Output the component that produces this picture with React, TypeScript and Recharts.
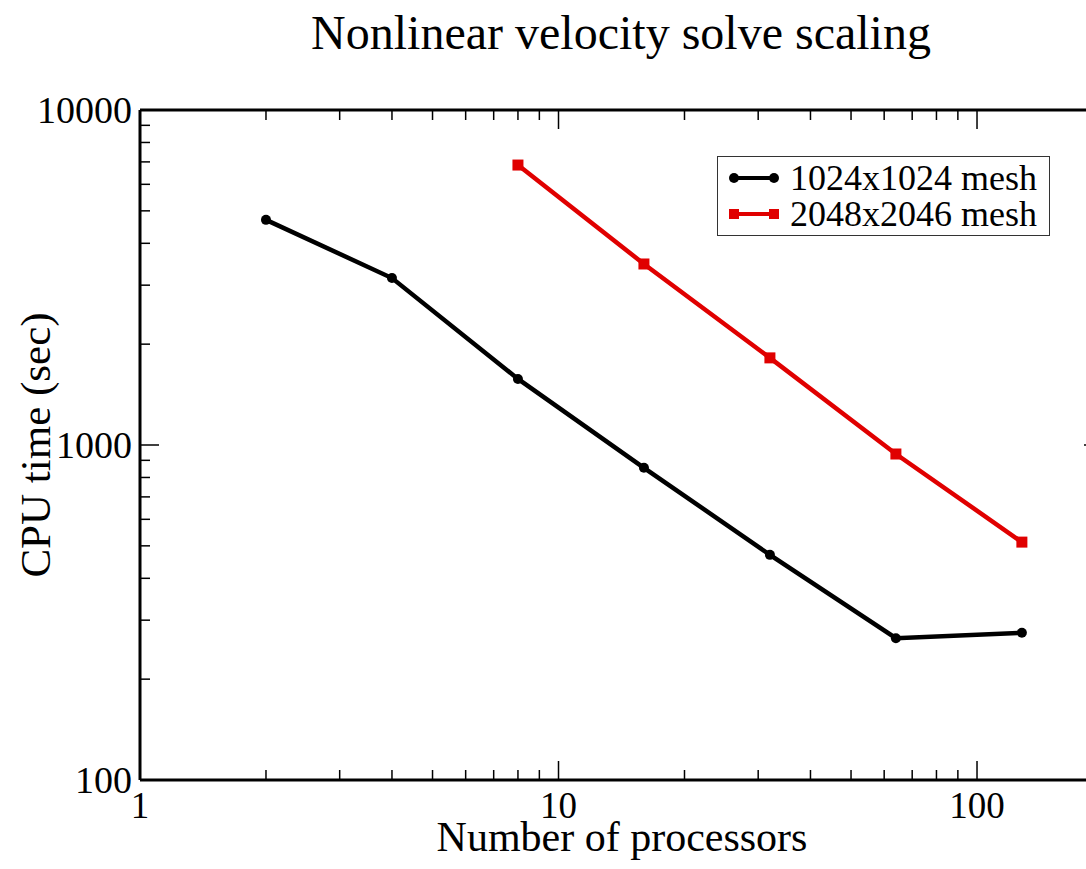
import React from "react";
import { LineChart, Line, XAxis, YAxis, Legend } from "recharts";

const processors = [2, 4, 8, 16, 32, 64, 128];
const mesh1024 = [4700, 3150, 1575, 855, 470, 265, 275];
const mesh2048 = [null, null, 6850, 3470, 1820, 940, 513];

const xTicks = [1, 2, 3, 4, 5, 6, 7, 8, 9, 10, 20, 30, 40, 50, 60, 70, 80, 90, 100, 200];
const yTicks = [
  100, 200, 300, 400, 500, 600, 700, 800, 900,
  1000, 2000, 3000, 4000, 5000, 6000, 7000, 8000, 9000, 10000,
];
const majorTicks = [1, 10, 100, 1000, 10000];

const rows = processors.map((p, i) => ({ p, a: mesh1024[i], b: mesh2048[i] }));

const FONT = '"Liberation Serif", "Times New Roman", serif';
const isMajor = (v: number) => majorTicks.includes(v);

function XTick({ x, y, payload, top }: any) {
  const major = isMajor(payload.value);
  const len = major ? 19 : 10;
  const dir = top ? 1 : -1;
  return (
    <g>
      <line x1={x} y1={y} x2={x} y2={y + dir * len} stroke="#000" strokeWidth={1.5} />
      {!top && major && (
        <text x={x} y={y + 38} textAnchor="middle" fontFamily={FONT} fontSize={37} fill="#000">
          {payload.value}
        </text>
      )}
    </g>
  );
}

function YTick({ x, y, payload, right }: any) {
  const major = isMajor(payload.value);
  const len = major ? 19 : 10;
  const dir = right ? -1 : 1;
  return (
    <g>
      <line x1={x} y1={y} x2={x + dir * len} y2={y} stroke="#000" strokeWidth={1.5} />
      {!right && major && (
        <text x={x - 8} y={y + 13} textAnchor="end" fontFamily={FONT} fontSize={38} fill="#000">
          {payload.value}
        </text>
      )}
    </g>
  );
}

function LegendBox() {
  const items = [
    { label: "1024x1024 mesh", color: "#000", square: false },
    { label: "2048x2046 mesh", color: "#e00000", square: true },
  ];
  return (
    <div
      style={{
        border: "1.5px solid #333",
        background: "#fff",
        padding: "3px 10px 3px 10px",
        fontFamily: FONT,
        fontSize: 36,
        lineHeight: "36px",
        color: "#000",
        whiteSpace: "nowrap",
      }}
    >
      {items.map((it) => (
        <div key={it.label} style={{ display: "flex", alignItems: "center", height: 36 }}>
          <svg width={52} height={20} style={{ marginRight: 10, flex: "none" }}>
            <line x1={6} y1={10} x2={46} y2={10} stroke={it.color} strokeWidth={4} />
            {it.square ? (
              <>
                <rect x={1} y={5} width={10} height={10} fill={it.color} />
                <rect x={41} y={5} width={10} height={10} fill={it.color} />
              </>
            ) : (
              <>
                <circle cx={6} cy={10} r={5} fill={it.color} />
                <circle cx={46} cy={10} r={5} fill={it.color} />
              </>
            )}
          </svg>
          <span>{it.label}</span>
        </div>
      ))}
    </div>
  );
}

export default function App() {
  return (
    <div
      style={{
        position: "absolute",
        left: 0,
        top: 0,
        width: 1086,
        height: 869,
        overflow: "hidden",
        background: "#fff",
      }}
    >
      <div
        style={{
          position: "absolute",
          left: 0,
          width: 1242,
          top: 5,
          textAlign: "center",
          fontFamily: FONT,
          fontSize: 48,
        }}
      >
        Nonlinear velocity solve scaling
      </div>
      <div
        style={{
          position: "absolute",
          left: 0,
          width: 1244,
          top: 818,
          textAlign: "center",
          fontFamily: FONT,
          fontSize: 42,
          lineHeight: "38px",
        }}
      >
        Number of processors
      </div>
      <div
        style={{
          position: "absolute",
          left: 35,
          top: 445,
          transform: "translate(-50%, -50%) rotate(-90deg)",
          whiteSpace: "nowrap",
          fontFamily: FONT,
          fontSize: 43,
        }}
      >
        CPU time (sec)
      </div>
      <div style={{ position: "absolute", left: 0, top: 0 }}>
        <LineChart
          width={1130}
          height={869}
          data={rows}
          margin={{ top: 109, right: 26, bottom: 88, left: 139 }}
        >
          <XAxis
            dataKey="p"
            type="number"
            scale="log"
            domain={[1, 200]}
            ticks={xTicks}
            interval={0}
            height={1}
            tickSize={0}
            tickMargin={0}
            tickLine={false}
            allowDataOverflow
            axisLine={{ stroke: "#000", strokeWidth: 3 }}
            tick={<XTick />}
          />
          <XAxis
            xAxisId="top"
            orientation="top"
            dataKey="p"
            type="number"
            scale="log"
            domain={[1, 200]}
            ticks={xTicks}
            interval={0}
            height={1}
            tickSize={0}
            tickMargin={0}
            tickLine={false}
            allowDataOverflow
            axisLine={{ stroke: "#000", strokeWidth: 3 }}
            tick={<XTick top />}
          />
          <YAxis
            type="number"
            scale="log"
            domain={[100, 10000]}
            ticks={yTicks}
            interval={0}
            width={1}
            tickSize={0}
            tickMargin={0}
            tickLine={false}
            allowDataOverflow
            axisLine={{ stroke: "#000", strokeWidth: 3 }}
            tick={<YTick />}
          />
          <YAxis
            yAxisId="right"
            orientation="right"
            type="number"
            scale="log"
            domain={[100, 10000]}
            ticks={yTicks}
            interval={0}
            width={1}
            tickSize={0}
            tickMargin={0}
            tickLine={false}
            allowDataOverflow
            axisLine={{ stroke: "#000", strokeWidth: 3 }}
            tick={<YTick right />}
          />
          <Legend
            layout="horizontal"
            verticalAlign="middle"
            align="center"
            content={<LegendBox />}
            wrapperStyle={{ left: 717, top: 156, width: 333 }}
          />
          <Line
            dataKey="a"
            stroke="#000"
            strokeWidth={4.5}
            dot={{ r: 5, fill: "#000", stroke: "#000", strokeWidth: 0 }}
            isAnimationActive={false}
          />
          <Line
            dataKey="b"
            stroke="#e00000"
            strokeWidth={4.5}
            dot={(props: any) =>
              props.value == null ? (
                <g key={props.index} />
              ) : (
                <rect
                  key={props.index}
                  x={props.cx - 5.5}
                  y={props.cy - 5.5}
                  width={11}
                  height={11}
                  fill="#e00000"
                />
              )
            }
            isAnimationActive={false}
          />
        </LineChart>
      </div>
    </div>
  );
}
